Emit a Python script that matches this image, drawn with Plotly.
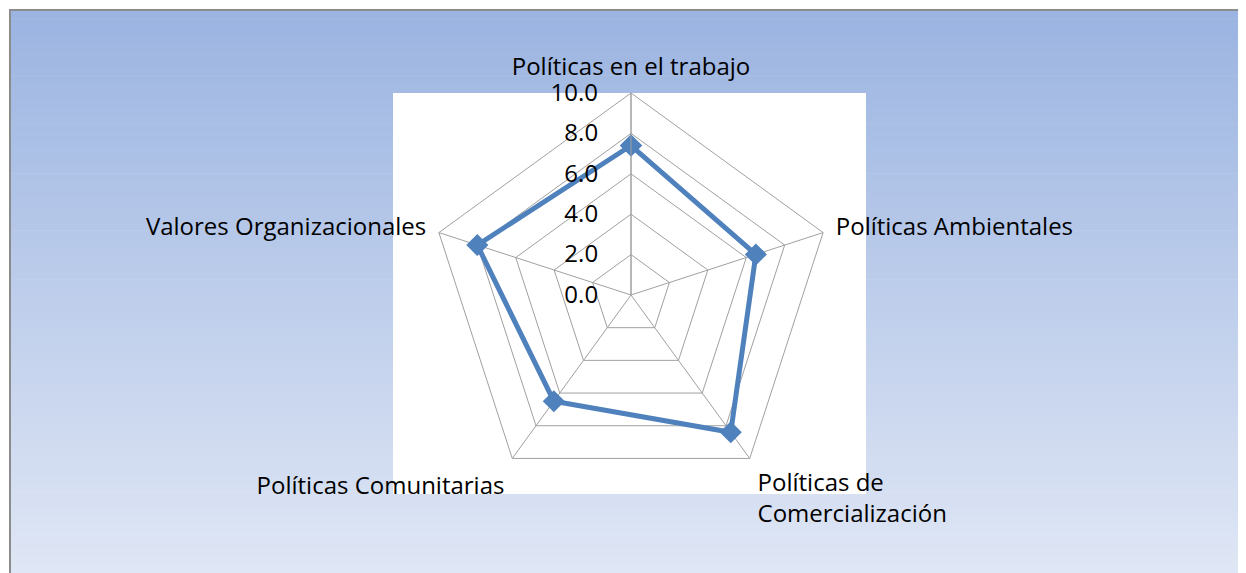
import plotly.graph_objects as go

categories = ["Políticas en el trabajo", "Políticas Ambientales",
              "Políticas de<br>Comercialización", "Políticas Comunitarias",
              "Valores Organizacionales"]
values = [7.4, 6.5, 8.4, 6.5, 8.0]
radial_ticks = [0, 2, 4, 6, 8, 10]

W, H = 1246, 573
OFF = 8  # page body margin offset
FONT = "Open Sans"
FS = 24
GRID = "#A0A0A0"
SERIES = "#4F81BD"


def px(x):
    return (x - OFF) / W


def py(y):
    return 1 - (y - OFF) / H


fig = go.Figure()
fig.add_trace(go.Scatterpolar(
    r=values + [values[0]],
    theta=categories + [categories[0]],
    mode="lines+markers",
    line=dict(color=SERIES, width=5),
    marker=dict(symbol="diamond", size=17, color=SERIES),
    showlegend=False,
    hoverinfo="skip",
))

# background gradient bands (frame starts at 10,10)
shapes = []
top = (155, 180, 225)
bot = (224, 231, 245)
n = 70
y0p, y1p = 10, H + OFF
for i in range(n):
    t = i / (n - 1)
    c = tuple(round(top[k] + (bot[k] - top[k]) * t) for k in range(3))
    ya = y0p + (y1p - y0p) * i / n
    yb = y0p + (y1p - y0p) * (i + 1) / n + 0.6
    shapes.append(dict(type="rect", xref="paper", yref="paper",
                       x0=px(10), x1=1.0, y0=py(yb), y1=py(ya),
                       fillcolor="rgb(%d,%d,%d)" % c, line=dict(width=0),
                       layer="below"))
# frame border
shapes.append(dict(type="line", xref="paper", yref="paper", x0=px(9), x1=1.0,
                   y0=py(10), y1=py(10), line=dict(color="#8C8C8C", width=2),
                   layer="below"))
shapes.append(dict(type="line", xref="paper", yref="paper", x0=px(10), x1=px(10),
                   y0=0, y1=py(10), line=dict(color="#8C8C8C", width=2),
                   layer="below"))
# white plot area
shapes.append(dict(type="rect", xref="paper", yref="paper",
                   x0=px(393), x1=px(866), y0=py(494), y1=py(93),
                   fillcolor="white", line=dict(width=0), layer="below"))

cx, cy, R = 631, 295, 202
fig.update_layout(
    width=W, height=H,
    margin=dict(l=0, r=0, t=0, b=0),
    paper_bgcolor="white",
    font=dict(family=FONT, color="#000000", size=FS),
    shapes=shapes,
    polar=dict(
        domain=dict(x=[px(cx - R), px(cx + R)],
                    y=[py(cy + R), py(cy - R)]),
        bgcolor="white",
        gridshape="linear",
        angularaxis=dict(
            rotation=90, direction="clockwise", type="category",
            showline=True, linecolor=GRID, linewidth=1,
            showgrid=True, gridcolor=GRID, gridwidth=1,
            ticks="outside", ticklen=8, tickcolor="rgba(0,0,0,0)",
            tickfont=dict(size=FS, family=FONT, color="#000"),
        ),
        radialaxis=dict(
            range=[0, 10], tickvals=radial_ticks, tickformat=".1f",
            angle=90, side="counterclockwise", tickangle=90,
            showline=True, linecolor=GRID, linewidth=1,
            showgrid=True, gridcolor=GRID, gridwidth=1,
            ticks="outside", ticklen=24, tickcolor="rgba(0,0,0,0)",
            tickfont=dict(size=FS, family=FONT, color="#000"),
        ),
    ),
)

fig.write_html("out.html")
